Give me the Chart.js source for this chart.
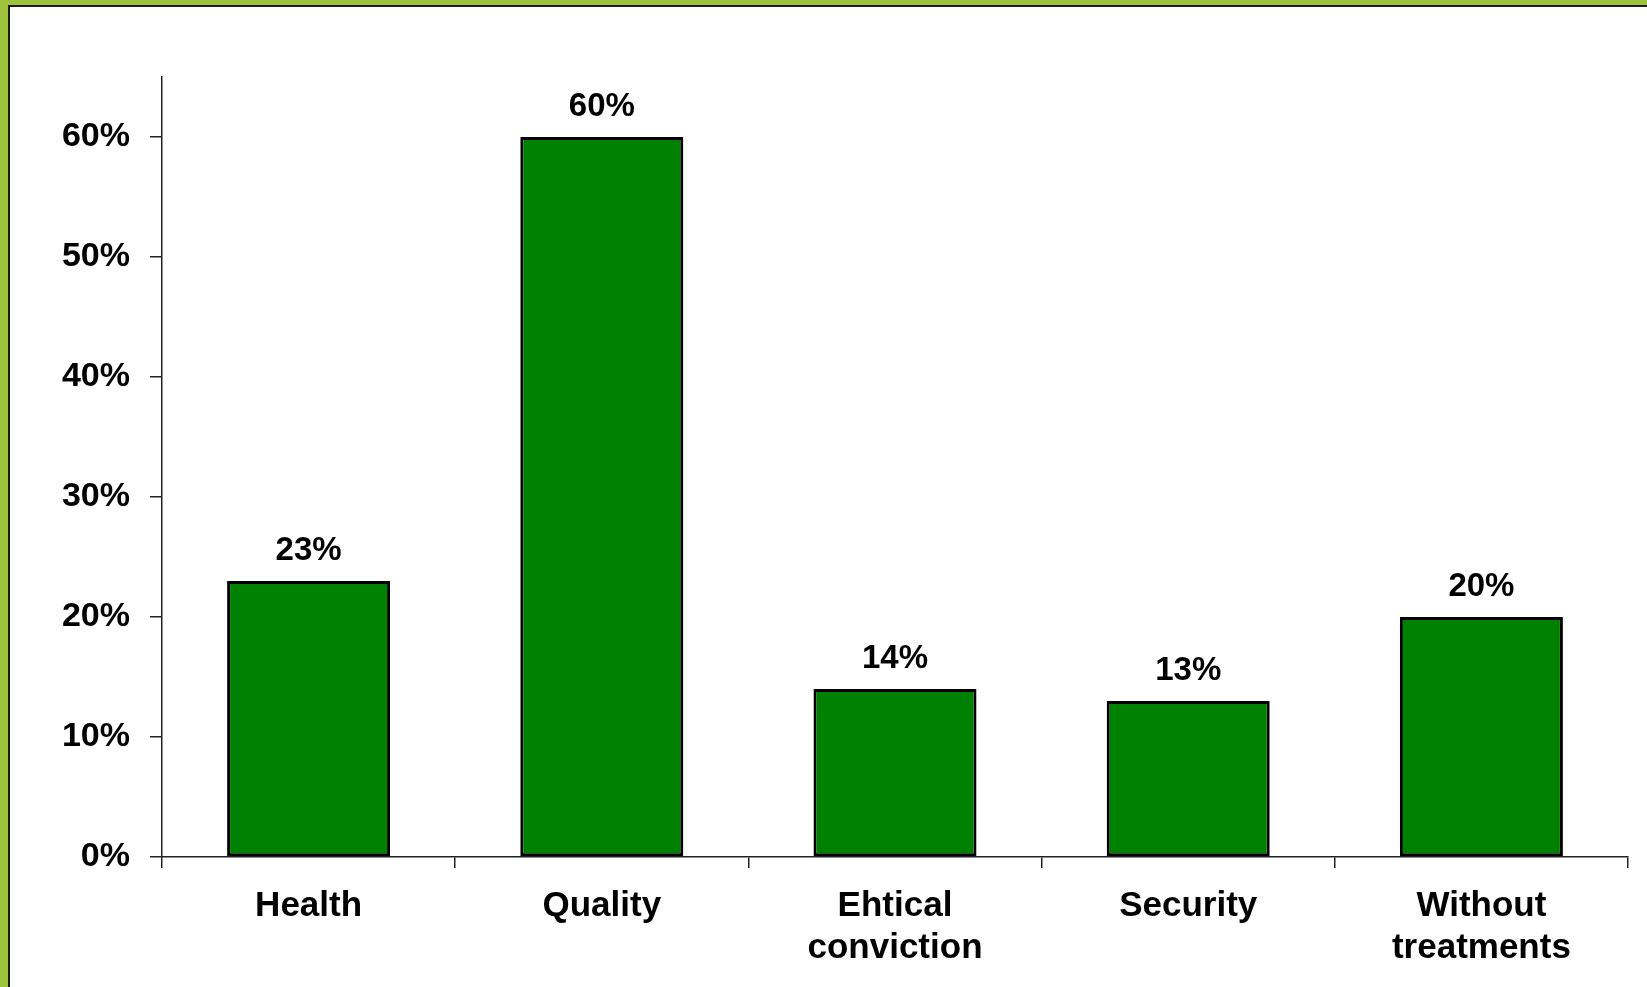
<!DOCTYPE html>
<html>
<head>
<meta charset="utf-8">
<script src="https://cdn.jsdelivr.net/npm/chart.js@4/dist/chart.umd.min.js"></script>
<style>
  html, body { margin: 0; padding: 0; }
  body { width: 1647px; height: 987px; background: #9dc43c; position: relative; overflow: hidden; }
  .frame {
    position: absolute; left: 8px; top: 5px; right: 0; bottom: 0;
    border-left: 2px solid #1c1c1c; border-top: 2px solid #1c1c1c;
    background: #fff;
  }
  #myChart { position: absolute; left: 0; top: 1px; }
</style>
</head>
<body>
<div class="frame">
  <canvas id="myChart" width="1637" height="979"></canvas>
</div>
<script>
var categories = ['Health', 'Quality', ['Ehtical', 'conviction'], 'Security', ['Without', 'treatments']];
var shares = [23, 60, 14, 13, 20];
var yTicks = [0, 10, 20, 30, 40, 50, 60];

var FONT = '"Liberation Sans", Arial, sans-serif';

// percentage above each bar
var valueLabels = {
  id: 'valueLabels',
  afterDatasetsDraw: function (chart) {
    var ctx = chart.ctx;
    var meta = chart.getDatasetMeta(0);
    ctx.save();
    ctx.font = 'bold 33px ' + FONT;
    ctx.fillStyle = '#000';
    ctx.textAlign = 'center';
    ctx.textBaseline = 'alphabetic';
    meta.data.forEach(function (bar, i) {
      ctx.fillText(shares[i] + '%', bar.x, bar.y - 21);
    });
    ctx.restore();
  }
};

new Chart(document.getElementById('myChart'), {
  type: 'bar',
  data: {
    labels: categories,
    datasets: [{
      data: shares,
      backgroundColor: '#008000',
      borderColor: '#000',
      borderWidth: 3,
      borderSkipped: false,
      categoryPercentage: 1,
      barPercentage: 0.556
    }]
  },
  options: {
    responsive: false,
    animation: false,
    layout: { padding: { top: 69, right: 19, left: 0, bottom: 0 } },
    plugins: {
      legend: { display: false },
      tooltip: { enabled: false }
    },
    scales: {
      x: {
        grid: { drawOnChartArea: false, tickLength: 11, color: '#222', lineWidth: 1.5 },
        border: { color: '#222', width: 1.5 },
        ticks: {
          color: '#000',
          padding: 17,
          maxRotation: 0,
          font: { family: FONT, size: 35, weight: 'bold', lineHeight: 1.2 }
        },
        afterFit: function (scale) { scale.height = 130; }
      },
      y: {
        min: 0,
        max: 65,
        afterBuildTicks: function (scale) {
          scale.ticks = yTicks.map(function (v) { return { value: v }; });
        },
        grid: { drawOnChartArea: false, tickLength: 12, color: '#222', lineWidth: 1.5 },
        border: { color: '#222', width: 1.5 },
        ticks: {
          color: '#000',
          padding: 20,
          includeBounds: false,
          font: { family: FONT, size: 34, weight: 'bold' },
          callback: function (v) { return v + '%'; }
        },
        afterFit: function (scale) { scale.width = 152; }
      }
    }
  },
  plugins: [valueLabels]
});
</script>
</body>
</html>
